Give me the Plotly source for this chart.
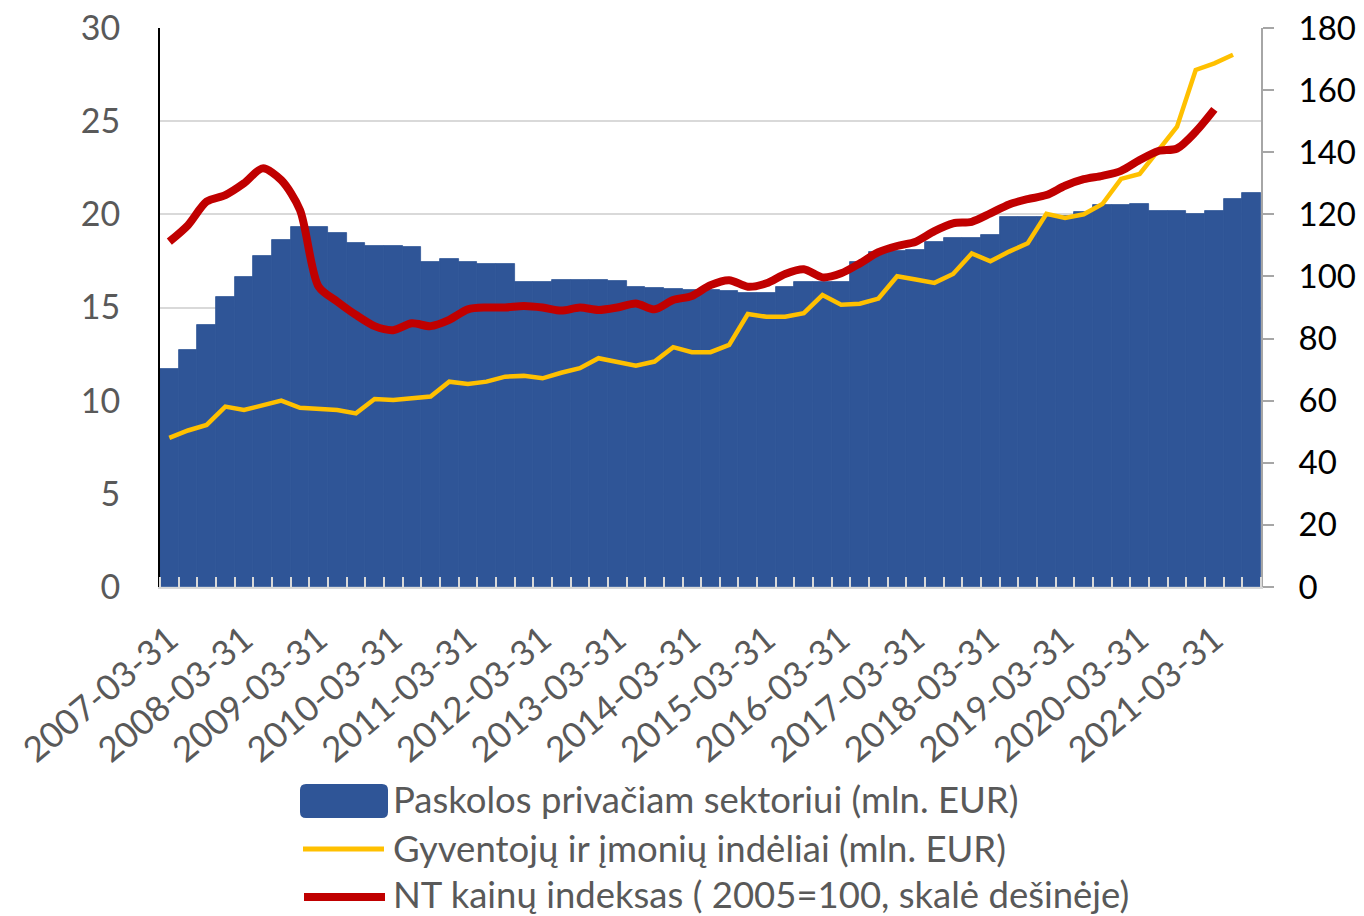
import plotly.graph_objects as go

# ---------------- data ----------------
years = list(range(2007, 2022))
quarter_ends = ["03-31", "06-30", "09-30", "12-31"]
quarters = [f"{y}-{q}" for y in years for q in quarter_ends][:59]  # 2007Q1 .. 2021Q3

tick_labels = [f"{y}-03-31" for y in years]

loans = [11.68, 12.72, 14.06, 15.58, 16.66, 17.77, 18.63, 19.34, 19.34, 18.99,
         18.48, 18.32, 18.32, 18.23, 17.45, 17.59, 17.46, 17.35, 17.35, 16.39,
         16.39, 16.48, 16.45, 16.50, 16.42, 16.12, 16.07, 15.98, 15.94, 15.94,
         15.90, 15.76, 15.76, 16.10, 16.39, 16.39, 16.39, 17.46, 18.00, 18.05,
         18.10, 18.53, 18.71, 18.71, 18.89, 19.88, 19.88, 19.88, 19.90, 20.15,
         20.50, 20.50, 20.55, 20.20, 20.20, 20.00, 20.20, 20.80, 21.13]

deposits = [8.00, 8.40, 8.70, 9.68, 9.50, 9.77, 10.00, 9.62, 9.55, 9.50,
            9.32, 10.09, 10.04, 10.13, 10.22, 11.02, 10.90, 11.02, 11.29, 11.33,
            11.20, 11.50, 11.74, 12.28, 12.06, 11.88, 12.10, 12.87, 12.60, 12.60,
            12.99, 14.65, 14.50, 14.50, 14.70, 15.67, 15.15, 15.20, 15.48, 16.68,
            16.50, 16.32, 16.80, 17.90, 17.48, 18.00, 18.45, 20.03, 19.80, 20.00,
            20.55, 21.90, 22.17, 23.40, 24.70, 27.75, 28.10, 28.56]

price_index = [111.2, 116.5, 124.1, 126.2, 130.0, 134.8, 131.0, 121.4, 96.7, 91.9,
               87.6, 84.0, 82.7, 84.9, 84.0, 86.0, 89.4, 90.0, 90.0, 90.5,
               90.0, 89.0, 90.0, 89.2, 90.0, 91.3, 89.4, 92.4, 93.7, 97.2,
               98.8, 96.7, 97.8, 100.8, 102.3, 99.7, 101.0, 104.2, 107.8, 109.8,
               111.2, 114.6, 117.1, 117.6, 120.3, 123.2, 124.9, 126.2, 129.2, 131.3,
               132.4, 134.0, 137.5, 140.4, 141.2, 146.6, 153.8]

series_names = ["Paskolos privačiam sektoriui (mln. EUR)",
                "Gyventojų ir įmonių indėliai (mln. EUR)",
                "NT kainų indeksas ( 2005=100, skalė dešinėje)"]

BLUE = "#2F5597"
YELLOW = "#FFC000"
RED = "#C00000"
GREY_TXT = "#595959"
FONT = "Lato"

idx = list(range(len(quarters)))
tick_pos = [quarters.index(t) for t in tick_labels if t in quarters]
tick_txt = [quarters[i] for i in tick_pos]

fig = go.Figure()
fig.add_trace(go.Bar(x=idx[:len(loans)], y=loans, name=series_names[0],
                     marker=dict(color=BLUE, line=dict(width=0.8, color=BLUE)),
                     width=1.0, hovertext=quarters))
fig.add_trace(go.Scatter(x=idx[:len(deposits)], y=deposits, name=series_names[1],
                         mode="lines", line=dict(color=YELLOW, width=4.5)))
fig.add_trace(go.Scatter(x=idx[:len(price_index)], y=price_index, name=series_names[2],
                         mode="lines", yaxis="y2",
                         line=dict(color=RED, width=8, shape="spline", smoothing=0.8)))

W, H = 1364, 916
L, R, T, B = 160, 103, 28, 329
pw, ph = W - L - R, H - T - B


def px_x(px):
    return (px - L) / pw


def px_y(py):
    return (H - B - py) / ph


shapes = []
# legend: rounded rectangle for bars
x0, x1, y0, y1 = px_x(300), px_x(388), px_y(818), px_y(784)
rx, ry = 6 / pw, 6 / ph
path = (f"M {x0+rx},{y0} L {x1-rx},{y0} Q {x1},{y0} {x1},{y0+ry} "
        f"L {x1},{y1-ry} Q {x1},{y1} {x1-rx},{y1} L {x0+rx},{y1} "
        f"Q {x0},{y1} {x0},{y1-ry} L {x0},{y0+ry} Q {x0},{y0} {x0+rx},{y0} Z")
shapes.append(dict(type="path", xref="paper", yref="paper", path=path,
                   fillcolor=BLUE, line=dict(width=0)))
shapes.append(dict(type="line", xref="paper", yref="paper",
                   x0=px_x(303), x1=px_x(384), y0=px_y(849), y1=px_y(849),
                   line=dict(color=YELLOW, width=5)))
shapes.append(dict(type="line", xref="paper", yref="paper",
                   x0=px_x(304), x1=px_x(385), y0=px_y(897), y1=px_y(897),
                   line=dict(color=RED, width=8)))

annotations = []
for name, py in zip(series_names, [799, 848, 894]):
    annotations.append(dict(xref="paper", yref="paper", x=px_x(391), y=px_y(py),
                            xanchor="left", yanchor="middle", text=name,
                            showarrow=False,
                            font=dict(family=FONT, size=36.5, color=GREY_TXT)))

fig.update_layout(
    width=W, height=H,
    margin=dict(l=L, r=R, t=T, b=B, pad=0, autoexpand=False),
    paper_bgcolor="white", plot_bgcolor="white",
    showlegend=False, bargap=0,
    font=dict(family=FONT, size=32, color=GREY_TXT),
    shapes=shapes, annotations=annotations,
    xaxis=dict(range=[-0.5, len(quarters) - 0.5], tickmode="array",
               tickvals=tick_pos, ticktext=tick_txt, tickangle=-40,
               ticks="", showgrid=False, zeroline=False, automargin=False,
               showline=True, linecolor="#D9D9D9", linewidth=2,
               tickfont=dict(family=FONT, size=35, color=GREY_TXT),
               ticklabelstandoff=16,
               minor=dict(ticks="inside", tickmode="linear", tick0=0.5, dtick=1,
                          ticklen=10, tickwidth=2, tickcolor="#D9D9D9",
                          showgrid=False)),
    yaxis=dict(range=[0, 30], tickmode="linear", tick0=0, dtick=5,
               showgrid=True, gridcolor="#D9D9D9", gridwidth=2, automargin=False,
               zeroline=False, showline=True, linecolor="black", linewidth=2,
               ticks="", tickfont=dict(family=FONT, size=34, color=GREY_TXT),
               ticklabelstandoff=31),
    yaxis2=dict(range=[0, 180], tickmode="linear", tick0=0, dtick=20,
                overlaying="y", side="right", anchor="x", automargin=False,
                showgrid=False, zeroline=False, showline=True,
                linecolor="#A6A6A6", linewidth=2, ticks="outside",
                ticklen=11, tickwidth=2, tickcolor="#A6A6A6",
                tickfont=dict(family=FONT, size=33, color="black"),
                ticklabelstandoff=18),
)

fig.write_html("out.html", config={"displayModeBar": False},
               post_script="document.body.style.margin='0';")
